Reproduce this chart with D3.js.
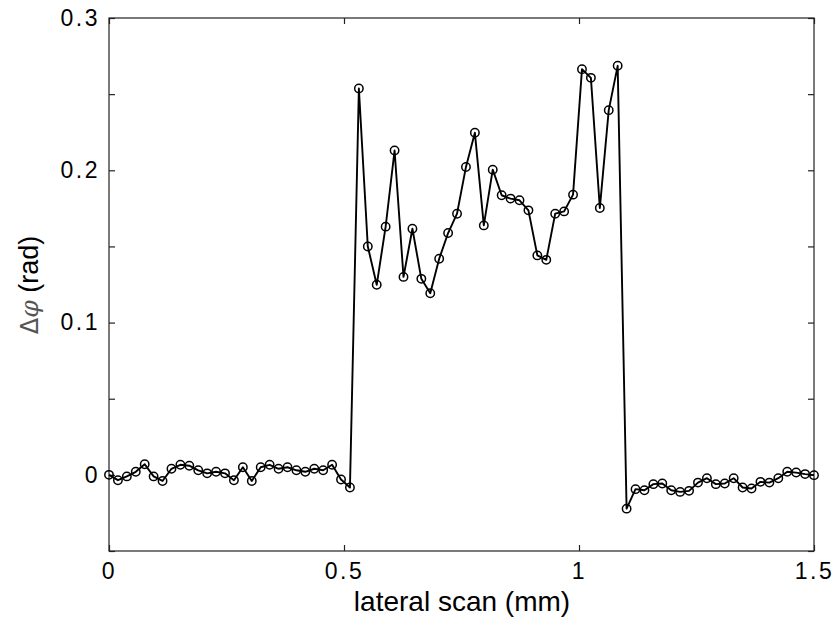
<!DOCTYPE html>
<html><head><meta charset="utf-8">
<script src="https://cdn.jsdelivr.net/npm/d3@7"></script>
<style>body{margin:0;background:#fff}svg{display:block}text{font-family:"Liberation Sans",Arial,sans-serif;fill:#000}</style>
</head><body>
<script>
// Data
const scanLength = 1.5;           // mm
const phase = [0, -0.0035, -0.001, 0.002, 0.007, -0.001, -0.004, 0.004, 0.0066, 0.006,
  0.003, 0.001, 0.002, 0.001, -0.0035, 0.005, -0.004, 0.005, 0.0066, 0.004,
  0.005, 0.003, 0.002, 0.004, 0.003, 0.0066, -0.003, -0.0083,
  0.2537, 0.150, 0.1248, 0.163, 0.213, 0.130, 0.1616, 0.1287, 0.1193, 0.1419,
  0.1588, 0.1715, 0.2022, 0.2246, 0.1638, 0.2004, 0.1836, 0.1814, 0.1803, 0.1737,
  0.1441, 0.1412, 0.1715, 0.173, 0.184, 0.2664, 0.2607, 0.1752, 0.2395, 0.2686,
  -0.0222, -0.0094, -0.0101, -0.0061, -0.0057, -0.0101, -0.0112, -0.0105, -0.0051, -0.0022,
  -0.0061, -0.0057, -0.0022, -0.0083, -0.009, -0.0046, -0.0051, -0.0022, 0.002, 0.0015,
  0.0005, -0.0002];
const xTicks = [0, 0.5, 1, 1.5];
const xTickLabels = ["0", "0.5", "1", "1.5"];
const yTicks = [-0.05, 0, 0.05, 0.1, 0.15, 0.2, 0.25, 0.3];
const yTickLabels = ["", "0", "", "0.1", "", "0.2", "", "0.3"];
const xDomain = [0, 1.5];
const yDomain = [-0.05, 0.3];
const xLabel = "lateral scan (mm)";

const W = 835, H = 621;
const L = 109, R = 814, T = 18, B = 551;
const step = scanLength / (phase.length - 1);
const pts = phase.map((v, i) => ({x: i * step, y: v}));

const svg = d3.select("body").append("svg").attr("width", W).attr("height", H);
const x = d3.scaleLinear().domain(xDomain).range([L, R]);
const y = d3.scaleLinear().domain(yDomain).range([B, T]);
const tl = 6;

// box
svg.append("rect").attr("x", L).attr("y", T).attr("width", R - L).attr("height", B - T)
  .attr("fill", "none").attr("stroke", "#222").attr("stroke-width", 1.2);

// axes with inward ticks
const fmtX = (d, i) => xTickLabels[i];
const fmtY = (d, i) => yTickLabels[i];
const gx = svg.append("g").attr("transform", `translate(0,${B})`)
  .call(d3.axisBottom(x).tickValues(xTicks).tickFormat(fmtX).tickSizeInner(-tl).tickSizeOuter(0).tickPadding(12));
const gxt = svg.append("g").attr("transform", `translate(0,${T})`)
  .call(d3.axisTop(x).tickValues(xTicks).tickFormat("").tickSizeInner(-tl).tickSizeOuter(0));
const gy = svg.append("g").attr("transform", `translate(${L},0)`)
  .call(d3.axisLeft(y).tickValues(yTicks).tickFormat(fmtY).tickSizeInner(-tl).tickSizeOuter(0).tickPadding(9));
const gyr = svg.append("g").attr("transform", `translate(${R},0)`)
  .call(d3.axisRight(y).tickValues(yTicks).tickFormat("").tickSizeInner(-tl).tickSizeOuter(0));
[gx, gxt, gy, gyr].forEach(g => {
  g.select(".domain").remove();
  g.selectAll(".tick line").attr("stroke", "#222").attr("stroke-width", 1.2);
  g.selectAll(".tick text").attr("font-size", 23).attr("font-family", "Liberation Sans, Arial, sans-serif")
    .attr("letter-spacing", 2.5).attr("fill", "#111");
});
gx.selectAll(".tick text").attr("dy", "0.71em");

// line and markers
const line = d3.line().x(d => x(d.x)).y(d => y(d.y));
svg.append("path").datum(pts).attr("d", line).attr("fill", "none")
  .attr("stroke", "#000").attr("stroke-width", 1.9).attr("stroke-linejoin", "round");
svg.append("g").selectAll("circle").data(pts).join("circle")
  .attr("cx", d => x(d.x)).attr("cy", d => y(d.y)).attr("r", 4.2)
  .attr("fill", "none").attr("stroke", "#000").attr("stroke-width", 1.5);

// axis labels
svg.append("text").attr("x", 462).attr("y", 611).attr("text-anchor", "middle")
  .attr("font-size", 28).attr("fill", "#111").text(xLabel);
const yl = svg.append("text").attr("transform", "translate(38,285) rotate(-90)")
  .attr("text-anchor", "middle").attr("font-size", 27).attr("fill", "#111");
yl.append("tspan").attr("font-family", "DejaVu Sans, sans-serif").attr("font-size", 24).attr("fill", "#555").text("Δ");
yl.append("tspan").attr("font-style", "italic").attr("font-family", "DejaVu Serif, serif").attr("font-size", 25).attr("fill", "#555").text("φ");
yl.append("tspan").text(" (rad)");
</script>
</body></html>
